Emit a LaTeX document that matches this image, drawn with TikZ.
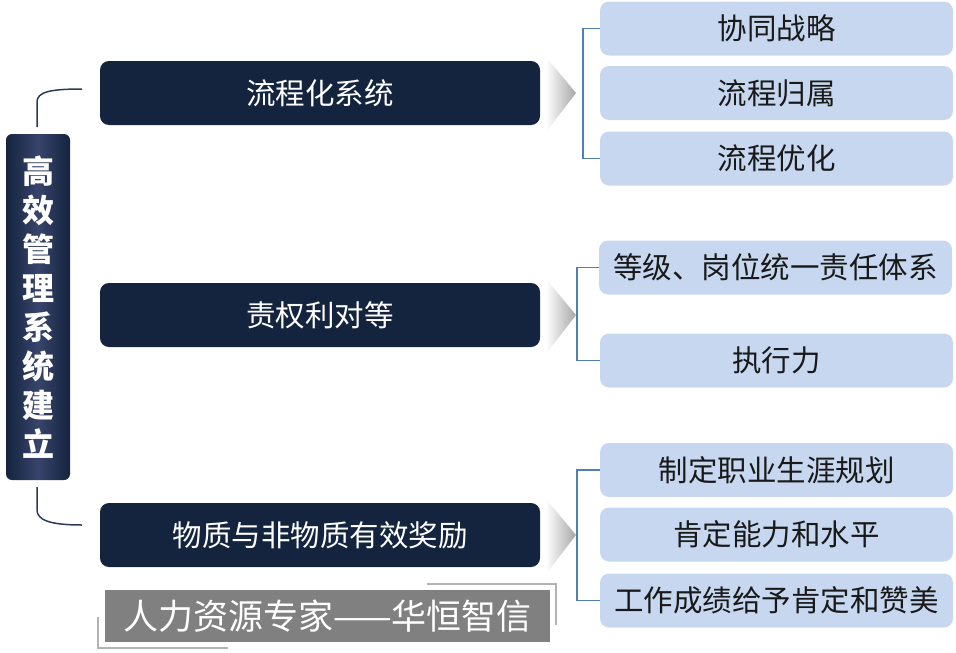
\documentclass[tikz,border=0pt]{standalone}
\usepackage{fontspec}
\newfontfamily\cjk{Noto Sans CJK SC}
\definecolor{navy}{HTML}{14243F}
\definecolor{pale}{HTML}{C6D7EF}
\definecolor{link}{HTML}{4F7FB8}
\definecolor{stem}{HTML}{2B3B55}
\definecolor{mark}{HTML}{808080}
\begin{document}
\begin{tikzpicture}[x=1pt,y=-1pt,
    main/.style={fill=navy, rounded corners=9pt, minimum width=440pt, minimum height=64pt,
        text=white, font=\cjk\fontsize{29.5}{31}\selectfont},
    sub/.style={fill=pale, rounded corners=9pt, minimum width=353pt, minimum height=54pt,
        text=black!90, font=\cjk\fontsize{29.5}{31}\selectfont},
    bracket/.style={draw=link, line width=1.5pt},
    stemline/.style={draw=stem, line width=1.5pt}]
    \useasboundingbox (0,0) rectangle (956,653);
    % left bar
    \node[left color=navy, right color=navy, middle color=navy!70!blue!60!white!40!navy,
        rounded corners=6pt, minimum width=64pt, minimum height=346pt, text=white, align=center,
        font=\cjk\bfseries\fontsize{32}{39}\selectfont] (L) at (38,307)
        {高\\效\\管\\理\\系\\统\\建\\立};
    \draw[stemline] (37,127) -- (37,102) .. controls (37,92) and (50,89) .. (82,89);
    \draw[stemline] (37,487) -- (37,510) .. controls (37,520) and (50,525) .. (82,525);
    % main boxes
    \node[main] (A) at (320,93) {流程化系统};
    \node[main] (B) at (320,315) {责权利对等};
    \node[main] (C) at (320,535) {物质与非物质有效奖励};
    \foreach \y in {93,315,535}
        \shade[left color=white, right color=gray!70] (546,\y-36) -- (576,\y) -- (546,\y+39) -- cycle;
    % sub boxes
    \node[sub] (A1) at (776.5,28.5) {协同战略};
    \node[sub] (A2) at (776.5,93) {流程归属};
    \node[sub] (A3) at (776.5,158.5) {流程优化};
    \node[sub] (B1) at (775.5,267.5) {等级、岗位统一责任体系};
    \node[sub] (B2) at (776.5,360.5) {执行力};
    \node[sub] (C1) at (776.5,470) {制定职业生涯规划};
    \node[sub] (C2) at (776.5,534.5) {肯定能力和水平};
    \node[sub] (C3) at (776.5,600.5) {工作成绩给予肯定和赞美};
    \draw[bracket] (A1.west) -| (583,93) |- (A3.west);
    \draw[bracket] (B1.west) -| (577,315) |- (B2.west);
    \draw[bracket] (C1.west) -| (577,535) |- (C3.west);
    % watermark
    \node[fill=mark, minimum width=445pt, minimum height=52pt, text=white,
        font=\cjk\fontsize{35}{37}\selectfont] (W) at (327.5,616) {人力资源专家——华恒智信};
    \draw[gray!60, line width=1.5pt] (427,584) -- (556,584) -- (556,625);
    \draw[gray!60, line width=1.5pt] (98,617) -- (98,648) -- (228,648);
\end{tikzpicture}
\end{document}
